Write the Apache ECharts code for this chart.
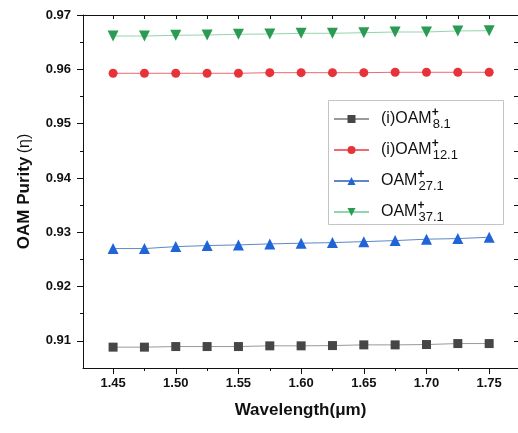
<!DOCTYPE html>
<html>
<head>
<meta charset="utf-8">
<script src="https://cdn.jsdelivr.net/npm/echarts@6/dist/echarts.min.js"></script>
<style>html,body{margin:0;padding:0;background:#fff}#c{width:518px;height:433px}</style>
</head>
<body>
<div id="c"></div>
<script>
var wavelengths = [1.45,1.475,1.5,1.525,1.55,1.575,1.6,1.625,1.65,1.675,1.7,1.725,1.75];
var purity8  = [0.90884,0.90884,0.90895,0.90895,0.90895,0.90908,0.90908,0.90913,0.90926,0.90926,0.90932,0.90950,0.90950];
var purity12 = [0.95927,0.95927,0.95927,0.95927,0.95927,0.95938,0.95938,0.95938,0.95938,0.95945,0.95945,0.95945,0.95945];
var purity27 = [0.92699,0.92699,0.92735,0.92754,0.92767,0.92785,0.92798,0.92809,0.92827,0.92846,0.92872,0.92883,0.92908];
var purity37 = [0.96613,0.96613,0.96626,0.96632,0.96645,0.96650,0.96663,0.96663,0.96674,0.96687,0.96687,0.96706,0.96711];
var legendBase = ['(i)OAM','(i)OAM','OAM','OAM'];
var legendSub = ['8.1','12.1','27.1','37.1'];
var xMajorTicks = [1.45,1.50,1.55,1.60,1.65,1.70,1.75];
var xMinorTicks = [1.475,1.525,1.575,1.625,1.675,1.725];
var yMajorTicks = [0.91,0.92,0.93,0.94,0.95,0.96,0.97];
var yMinorTicks = [0.915,0.925,0.935,0.945,0.955,0.965];

var FONT = 'Liberation Sans, Arial, sans-serif';
var names = legendBase.map(function(b,i){return b + '+' + legendSub[i];});
function pairs(arr){return wavelengths.map(function(w,i){return [w, arr[i]];});}
var XMIN = 1.426, XMAX = 1.773, YMIN = 0.905, YMAX = 0.97;

var chart = echarts.init(document.getElementById('c'), null, {renderer:'canvas'});
var axisLine = {show:true, lineStyle:{color:'#111', width:1}};
function xAx(pos, ticks, len, inside, showLine, showLabel, extra){
  var o = {type:'value', gridIndex:0, position:pos, min:XMIN, max:XMAX,
    axisLine: showLine ? axisLine : {show:false},
    axisTick:{show:true, inside:inside, length:len, customValues:ticks, lineStyle:{color:'#111',width:1}},
    axisLabel: showLabel ? {show:true, customValues:xMajorTicks, margin:9, fontFamily:FONT, fontWeight:'bold', fontSize:13, color:'#111', formatter:function(v){return v.toFixed(2);}} : {show:false},
    splitLine:{show:false}};
  for (var k in extra) o[k]=extra[k];
  return o;
}
function yAx(pos, ticks, len, inside, showLine, showLabel, extra){
  var o = {type:'value', gridIndex:0, position:pos, min:YMIN, max:YMAX,
    axisLine: showLine ? axisLine : {show:false},
    axisTick:{show:true, inside:inside, length:len, customValues:ticks, lineStyle:{color:'#111',width:1}},
    axisLabel: showLabel ? {show:true, customValues:yMajorTicks, margin:12, fontFamily:FONT, fontWeight:'bold', fontSize:13, color:'#111', formatter:function(v){return v.toFixed(2);}} : {show:false},
    splitLine:{show:false}};
  for (var k in extra) o[k]=extra[k];
  return o;
}

var series = [
  {name:names[0], data:pairs(purity8), symbol:'rect', symbolSize:9, color:'#464646', lineStyle:{color:'#9a9a9a',width:1}},
  {name:names[1], data:pairs(purity12), symbol:'circle', symbolSize:9, color:'#e8323a', lineStyle:{color:'#ec6a70',width:1}},
  {name:names[2], data:pairs(purity27), symbol:'triangle', symbolSize:11, color:'#1f64d8', lineStyle:{color:'#5c88c8',width:1}},
  {name:names[3], data:pairs(purity37), symbol:'triangle', symbolRotate:180, symbolSize:11, color:'#2b9a52', lineStyle:{color:'#92d6ae',width:1}}
].map(function(s){
  s.type='line'; s.xAxisIndex=0; s.yAxisIndex=0; s.showSymbol=true; s.animation=false;
  s.itemStyle={color:s.color}; s.z=3;
  return s;
});

chart.setOption({
  animation:false,
  backgroundColor:'#fff',
  grid:{left:83, top:15, width:436, height:353, containLabel:false},
  xAxis:[
    xAx('bottom', xMajorTicks, 6, false, true, true, {name:'Wavelength(\u03bcm)', nameLocation:'middle', nameGap:34,
      nameTextStyle:{fontFamily:FONT, fontWeight:'bold', fontSize:17, color:'#111'}}),
    xAx('bottom', xMinorTicks, 3, false, false, false, {}),
    xAx('top', xMajorTicks.concat(xMinorTicks), 4, true, true, false, {})
  ],
  yAxis:[
    yAx('left', yMajorTicks, 6, false, true, true, {name:'{b|OAM Purity} {n|(\u03b7)}', nameLocation:'middle', nameGap:50, nameRotate:90,
      nameTextStyle:{rich:{b:{fontFamily:FONT, fontWeight:'bold', fontSize:17, color:'#111'}, n:{fontFamily:FONT, fontSize:16, color:'#111'}}}}),
    yAx('left', yMinorTicks, 3, false, false, false, {}),
    yAx('right', yMajorTicks.concat(yMinorTicks), 4, true, true, false, {})
  ],
  graphic:[{type:'rect', shape:{x:328.5, y:100.5, width:175, height:124}, style:{fill:'#fff', stroke:'#c4c4c4', lineWidth:1}, z:5}],
  legend:{
    orient:'vertical', left:328, top:102, itemWidth:35, itemHeight:10, itemGap:7, z:10,
    data:names,
    formatter:function(name){
      var i = names.indexOf(name);
      return '{s|}{b|' + legendBase[i] + '}{sp|+}{sb|' + legendSub[i] + '}';
    },
    textStyle:{
      rich:{
        s:{width:7, height:24, lineHeight:24},
        b:{fontFamily:FONT, fontSize:16, color:'#111', lineHeight:24, height:24},
        sp:{fontFamily:FONT, fontSize:12, color:'#111', width:1, lineHeight:24, verticalAlign:'top', fontWeight:'bold'},
        sb:{fontFamily:FONT, fontSize:13, color:'#111', lineHeight:24, verticalAlign:'bottom'}
      }
    }
  },
  series:series
});
</script>
</body>
</html>
